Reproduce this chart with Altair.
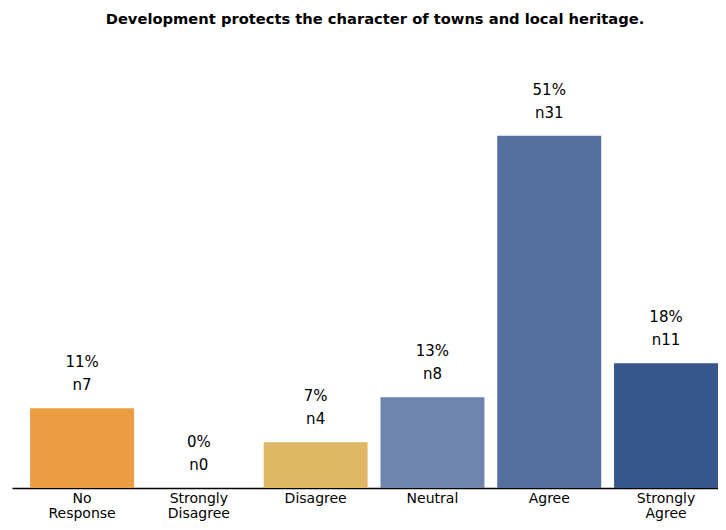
import altair as alt
import pandas as pd

categories = ["No Response", "Strongly Disagree", "Disagree", "Neutral", "Agree", "Strongly Agree"]
percents = [11.5, 0.0, 6.6, 13.1, 50.8, 18.0]
pct_labels = ["11%", "0%", "7%", "13%", "51%", "18%"]
counts = ["n7", "n0", "n4", "n8", "n31", "n11"]
colors = ["#EC9C41", "#FFFFFF", "#E0B865", "#6E85AF", "#546E9E", "#37568C"]

df = pd.DataFrame({
    "cat": categories,
    "pct": percents,
    "plabel": pct_labels,
    "nlabel": counts,
})

FONT = "DejaVu Sans"

x = alt.X("cat:N", sort=categories,
          scale=alt.Scale(paddingInner=0.11, paddingOuter=0.0775, align=1),
          axis=alt.Axis(title=None, labelAngle=0, ticks=False, domainColor="black",
                        domainWidth=1.5, labelColor="black", labelFontSize=14,
                        labelFont=FONT, labelPadding=3, labelLineHeight=15,
                        labelExpr="split(datum.label, ' ')"))
y = alt.Y("pct:Q", scale=alt.Scale(domain=[0, 64.9], nice=False), axis=None)

base = alt.Chart(df)
bars = base.mark_bar().encode(
    x=x, y=y,
    color=alt.Color("cat:N", scale=alt.Scale(domain=categories, range=colors), legend=None),
)
t1 = base.mark_text(dy=-46, fontSize=15, font=FONT, color="black", baseline="middle").encode(
    x=alt.X("cat:N", sort=categories), y="pct:Q", text="plabel:N")
t2 = base.mark_text(dy=-23, fontSize=15, font=FONT, color="black", baseline="middle").encode(
    x=alt.X("cat:N", sort=categories), y="pct:Q", text="nlabel:N")

chart = (bars + t1 + t2).properties(
    width=706, height=450,
    title=alt.TitleParams("Development protects the character of towns and local heritage.",
                          font=FONT, fontSize=14.7, fontWeight="bold", color="black",
                          anchor="middle", offset=11, dx=10),
    autosize=alt.AutoSizeParams(type="none"),
    padding={"left": 4, "top": 30, "right": 0, "bottom": 34},
).configure_view(stroke=None)

chart.save("out.html", embed_options={"renderer": "svg", "actions": False})
